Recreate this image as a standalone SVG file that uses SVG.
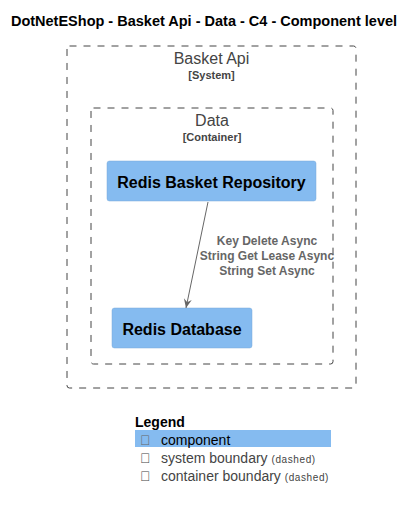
<svg xmlns="http://www.w3.org/2000/svg" width="415" height="509" viewBox="0 0 415 509">
<style>
text{font-family:"Liberation Sans",Arial,sans-serif}
.title{font-size:14.5px;font-weight:bold;fill:#000}
.bnd{fill:none;stroke:#444;stroke-width:1;stroke-dasharray:7,7}
.bname{font-size:16px;fill:#444;text-anchor:middle}
.btype{font-size:11px;font-weight:bold;fill:#444;text-anchor:middle}
.comp{fill:#85BBF0;stroke:#78A8D8;stroke-width:0.5}
.cname{font-size:16px;font-weight:bold;fill:#000;text-anchor:middle}
.rel{stroke:#666;stroke-width:1;fill:none}
.rlab{font-size:12px;font-weight:bold;fill:#666;text-anchor:middle}
.leg{font-size:14px;fill:#444}
.small{font-size:10px;fill:#444;letter-spacing:0.6px}
</style>
<defs>
<marker id="arr" markerWidth="10" markerHeight="10" refX="9" refY="5" orient="auto" markerUnits="userSpaceOnUse">
<path d="M0,1 L9,5 L0,9 L3,5 Z" fill="#666"/>
</marker>
</defs>
<text class="title" x="204" y="26" text-anchor="middle">DotNetEShop - Basket Api - Data - C4 - Component level</text>
<g id="basketApi">
<rect class="bnd" x="67" y="46" width="289" height="342" rx="2.5"/>
<text class="bname" x="211.5" y="64">Basket Api</text>
<text class="btype" x="211.5" y="79">[System]</text>
</g>
<g id="data">
<rect class="bnd" x="91" y="108" width="242" height="256" rx="2.5"/>
<text class="bname" x="212" y="126">Data</text>
<text class="btype" x="212" y="141">[Container]</text>
</g>
<g id="redisBasketRepository">
<rect class="comp" x="107" y="161" width="209" height="40" rx="2.5"/>
<text class="cname" x="211.5" y="188">Redis Basket Repository</text>
</g>
<g id="redisDatabase">
<rect class="comp" x="112" y="308" width="140" height="40" rx="2.5"/>
<text class="cname" x="182" y="335">Redis Database</text>
</g>
<g id="connectors">
<line class="rel" x1="208" y1="202" x2="186" y2="308" marker-end="url(#arr)"/>
<text class="rlab" x="267" y="245">Key Delete Async</text>
<text class="rlab" x="267" y="260">String Get Lease Async</text>
<text class="rlab" x="267" y="275">String Set Async</text>
</g>
<g id="legend">
<text x="135" y="427" style="font-size:14px;font-weight:bold;fill:#000">Legend</text>
<rect x="135" y="430" width="196" height="17" fill="#85BBF0"/>
<text class="leg" x="140" y="445" style="fill:#666">&#xF1B2;</text>
<text class="leg" x="161" y="445" style="fill:#000">component</text>
<text class="leg" x="140" y="463" style="fill:#444">&#xF1B2;</text>
<text class="leg" x="161" y="463">system boundary <tspan class="small">(dashed)</tspan></text>
<text class="leg" x="140" y="481">&#xF1B2;</text>
<text class="leg" x="161" y="481">container boundary <tspan class="small">(dashed)</tspan></text>
</g>
</svg>
